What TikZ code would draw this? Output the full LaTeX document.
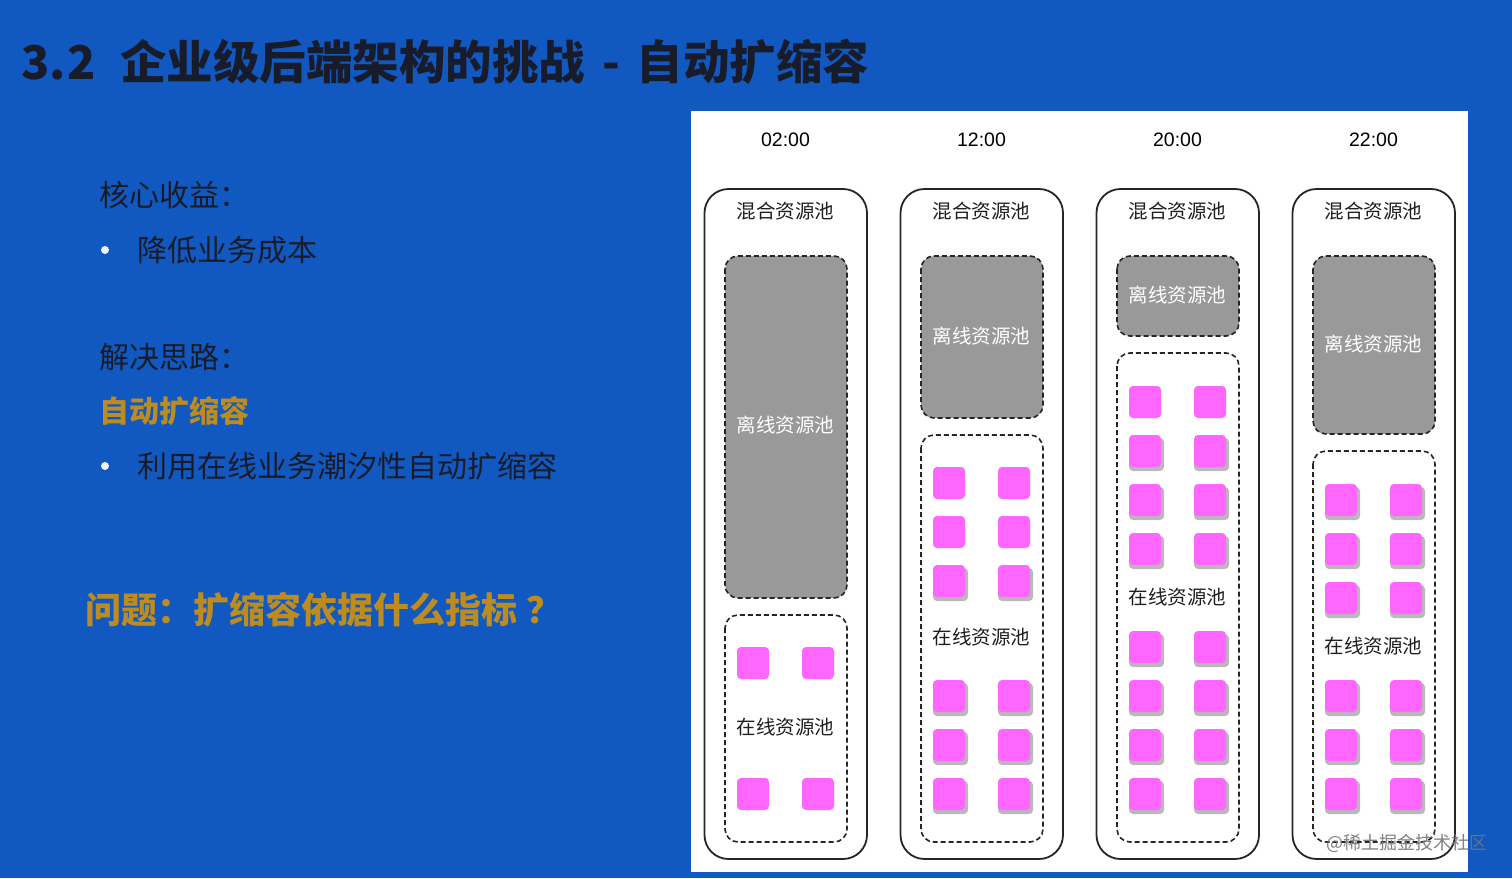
\documentclass[tikz,border=0pt]{standalone}
\usepackage{fontspec}
\setmainfont{Noto Sans CJK SC}
\newfontfamily\timefont{Liberation Sans}
\usetikzlibrary{positioning}
\definecolor{bgblue}{RGB}{17,88,192}
\definecolor{gold}{RGB}{188,140,32}
\definecolor{darktxt}{RGB}{24,28,42}
\definecolor{pinksq}{RGB}{255,102,255}
\definecolor{offgray}{RGB}{153,153,153}
\definecolor{shadowgray}{RGB}{185,185,185}
\tikzset{
  lefttxt/.style={anchor=west,inner sep=0pt,text=darktxt,font=\fontsize{30}{34}\selectfont},
  goldtxt/.style={anchor=west,inner sep=0pt,text=gold,font=\fontsize{30}{34}\selectfont\bfseries},
  bulletdot/.style={circle,fill=white!92!bgblue,inner sep=0pt,minimum size=8pt},
  timelbl/.style={inner sep=0pt,text=black,font=\timefont\fontsize{19.5}{22}\selectfont},
  poollbl/.style={inner sep=0pt,text=black!88,font=\fontsize{19.5}{22}\selectfont},
  offlbl/.style={inner sep=0pt,text=white,font=\fontsize{19.5}{22}\selectfont},
  outerbox/.style={draw=black!85,line width=1.8pt,rounded corners=24pt,fill=white},
  offbox/.style={draw=black!85,line width=1.6pt,dash pattern=on 5pt off 3pt,rounded corners=13pt,fill=offgray},
  onbox/.style={draw=black!85,line width=1.6pt,dash pattern=on 5pt off 3pt,rounded corners=13pt},
  sq/.style={fill=pinksq,rounded corners=4pt},
  sqsh/.style={fill=shadowgray,rounded corners=4pt},
}
\begin{document}
\begin{tikzpicture}[x=1pt,y=-1pt]
\useasboundingbox (0,0) rectangle (1512,878);
\fill[bgblue] (0,0) rectangle (1512,878);
% title
\node[anchor=west,inner sep=0pt,text=darktxt,font=\fontsize{46.5}{50}\selectfont\bfseries] (title) at (21,62) {3.\hspace{2pt}2\hspace{24pt}企业级后端架构的挑战\hspace{17pt}-\hspace{17pt}自动扩缩容};
% left text
\node[lefttxt] (core) at (99,195) {核心收益：};
\node[bulletdot] (b1) at (105,250) {};
\node[lefttxt] (cost) at (137,250) {降低业务成本};
\node[lefttxt] (idea) at (99,357) {解决思路：};
\node[goldtxt] (auto) at (99,411) {自动扩缩容};
\node[bulletdot] (b2) at (105,466) {};
\node[lefttxt] (tide) at (137,466) {利用在线业务潮汐性自动扩缩容};
\node[anchor=west,inner sep=0pt,text=gold,font=\fontsize{36}{40}\selectfont\bfseries] (q) at (85,610) {问题：扩缩容依据什么指标\hspace{9pt}？};
% right panel
\fill[white] (691,111) rectangle (1468,872);
% columns
\foreach \c/\cx/\tm/\offb/\offy/\onlbl/\rows/\shrows in {
  1/785.5/02:00/598/425/727/{663,794}/{},
  2/981.5/12:00/418/336/637/{483,532,581,696,745,794}/{581,696,745,794},
  3/1177.5/20:00/336/295/597/{402,451,500,549,647,696,745,794}/{451,500,549,647,696,745,794},
  4/1373.5/22:00/434/344/646/{500,549,598,696,745,794}/{500,549,598,696,745,794}}{
  \node[timelbl] (time\c) at (\cx,140) {\tm};
  \draw[outerbox] (\cx-81,189) rectangle (\cx+81.5,859);
  \node[poollbl] (mix\c) at (\cx,211) {混合资源池};
  \draw[offbox] (\cx-60.5,256) rectangle (\cx+61.5,\offb);
  \node[offlbl] (off\c) at (\cx,\offy) {离线资源池};
  \draw[onbox] (\cx-60.5,\offb+17) rectangle (\cx+61.5,842);
  \node[poollbl] (on\c) at (\cx,\onlbl) {在线资源池};
  \foreach \r in \shrows {
    \fill[sqsh] (\cx-48.5,\r-13) rectangle (\cx-13.5,\r+20);
    \fill[sqsh] (\cx+16.5,\r-13) rectangle (\cx+51.5,\r+20);
  }
  \foreach \r [count=\k] in \rows {
    \node[sq,minimum size=32pt,inner sep=0pt] (sqa\c-\k) at (\cx-32.5,\r) {};
    \node[sq,minimum size=32pt,inner sep=0pt] (sqb\c-\k) at (\cx+32.5,\r) {};
  }
}
% watermark
\node[anchor=west,inner sep=0pt,text=black!55,opacity=0.9,font=\fontsize{18}{20}\selectfont] (wm) at (1326,843) {@稀土掘金技术社区};
\end{tikzpicture}
\end{document}
